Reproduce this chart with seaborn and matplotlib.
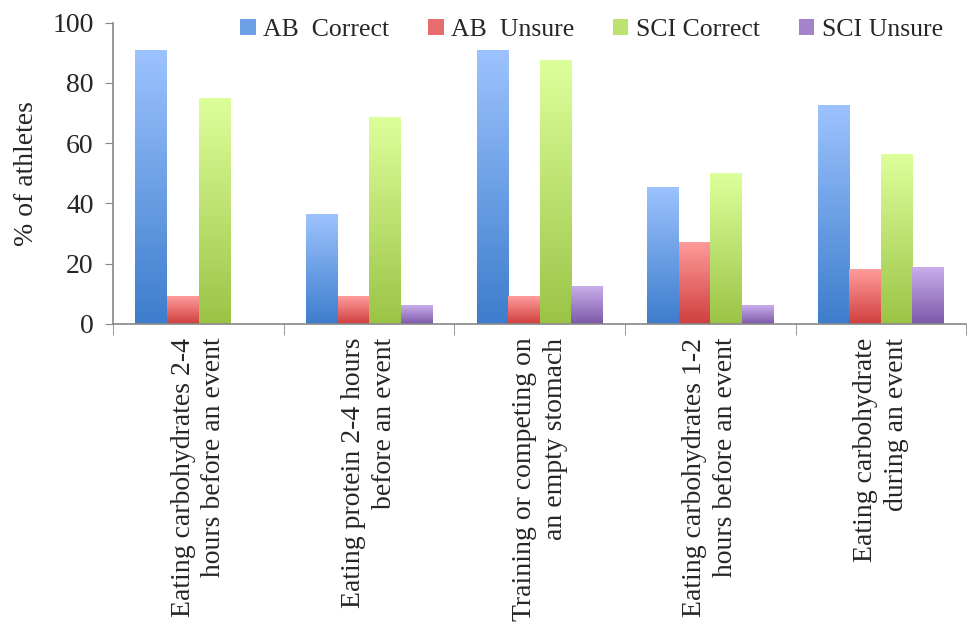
import numpy as np
import pandas as pd
import seaborn as sns
import matplotlib.pyplot as plt
from matplotlib.colors import LinearSegmentedColormap, to_rgb
from matplotlib.patches import Patch

# Dados (% de atletas)
categorias = [
    'Eating carbohydrates 2-4\nhours before an event',
    'Eating protein 2-4 hours\nbefore an event',
    'Training or competing on\nan empty stomach',
    'Eating carbohydrates 1-2\nhours before an event',
    'Eating carbohydrate\nduring an event',
]
series = ['AB  Correct', 'AB  Unsure', 'SCI Correct', 'SCI Unsure']
ab_correct = [91, 36.4, 91, 45.5, 72.7]
ab_unsure = [9.1, 9.1, 9.1, 27.3, 18.2]
sci_correct = [75, 68.8, 87.5, 50, 56.3]
sci_unsure = [0, 6.3, 12.5, 6.3, 18.8]

# Gradientes (topo, base) de cada série
cores_topo = ['#9dc3ff', '#ff9c9c', '#ddff9b', '#c9aeeb']
cores_base = ['#3d7dcc', '#cf3f3d', '#9bc446', '#7c58a8']

valores = [ab_correct, ab_unsure, sci_correct, sci_unsure]
linhas = []
for s, vals in zip(series, valores):
    for c, v in zip(categorias, vals):
        linhas.append({'categoria': c, 'serie': s, 'valor': v})
df = pd.DataFrame(linhas)

sns.set_style('white')
plt.rcParams['font.family'] = ['Liberation Serif', 'DejaVu Serif']

fig = plt.figure(figsize=(9.68, 6.3), dpi=100)
ax = fig.add_axes([0.117, 0.486, 0.881, 0.478])

cores_meio = [tuple((np.array(to_rgb(a)) + np.array(to_rgb(b))) / 2)
              for a, b in zip(cores_topo, cores_base)]
sns.barplot(data=df, x='categoria', y='valor', hue='serie', hue_order=series,
            palette=cores_meio, width=0.74, gap=0, ax=ax, legend=False,
            saturation=1, err_kws={'linewidth': 0})

# Aplicar gradiente vertical em cada barra
gradiente = np.linspace(0, 1, 256).reshape(-1, 1)
n_cat = len(categorias)
for i, barra in enumerate(ax.patches[:n_cat * len(series)]):
    s = i // n_cat
    cmap = LinearSegmentedColormap.from_list('g%d' % s, [cores_base[s], cores_topo[s]])
    x0, y0 = barra.get_x(), barra.get_y()
    w, h = barra.get_width(), barra.get_height()
    if h <= 0:
        continue
    img = ax.imshow(gradiente, cmap=cmap, origin='lower', aspect='auto',
                    extent=[x0, x0 + w, y0, y0 + h], zorder=barra.get_zorder() + 0.1)
    img.set_clip_path(barra)

ax.set_xlim(-0.5, n_cat - 0.5)
ax.set_ylim(0, 100)
ax.set_yticks([0, 20, 40, 60, 80, 100])
ax.tick_params(axis='y', labelsize=20, length=6, color='#888888', direction='out',
               left=True, pad=8)
ax.set_xticks(range(n_cat))
ax.set_xticklabels(categorias, rotation=90, fontsize=20, va='top', ha='center',
                   multialignment='right', linespacing=1.3)
ax.tick_params(axis='x', length=0, pad=10)
ax.set_xticks(np.arange(-0.5, n_cat, 1), minor=True)
ax.tick_params(axis='x', which='minor', length=8, color='#888888', direction='out', bottom=True)
ax.set_xlabel('')
ax.set_ylabel('% of athletes', fontsize=20)
ax.yaxis.set_label_coords(-0.087, 0.5)

for lado in ['top', 'right']:
    ax.spines[lado].set_visible(False)
for lado in ['left', 'bottom']:
    ax.spines[lado].set_color('#888888')
    ax.spines[lado].set_linewidth(1.2)

handles = [Patch(facecolor=c, edgecolor='none') for c in cores_meio]
ax.legend(handles, series, ncol=4, frameon=False, fontsize=18.5, loc='upper right',
          bbox_to_anchor=(1.0, 1.09), handlelength=0.6, handleheight=0.6,
          handletextpad=0.3, columnspacing=1.5)

fig.savefig('out.png', dpi=100)
